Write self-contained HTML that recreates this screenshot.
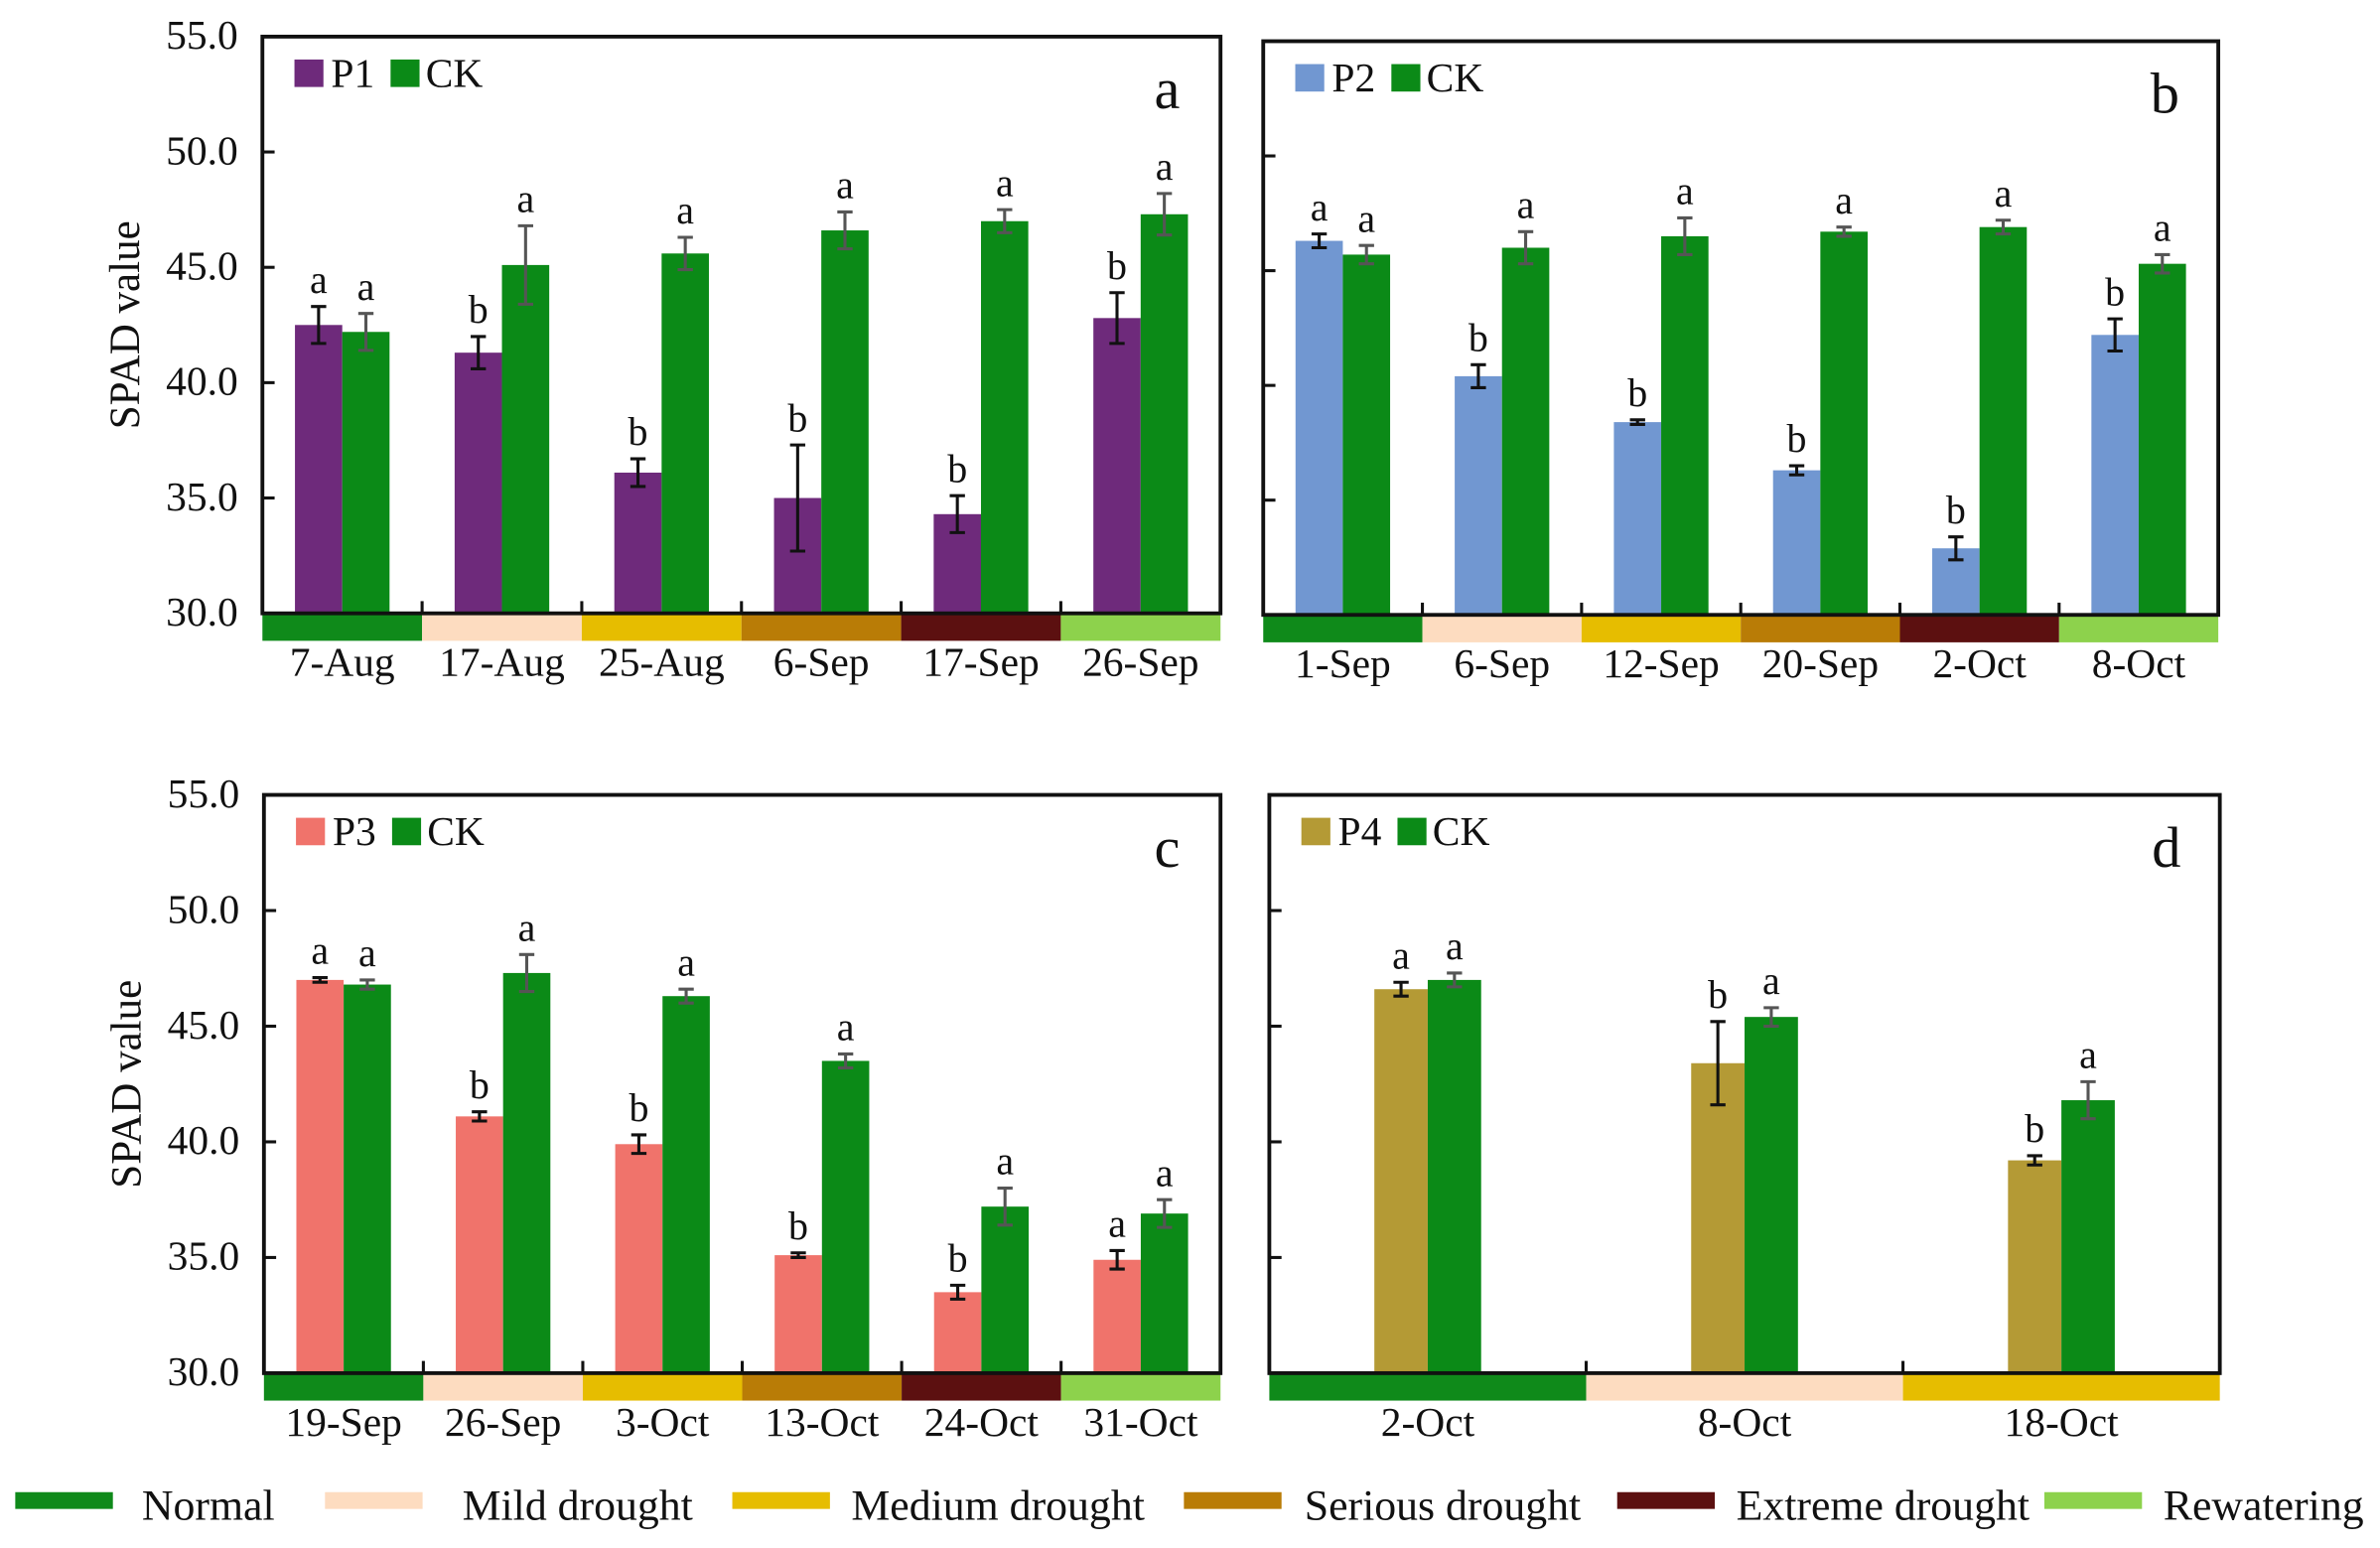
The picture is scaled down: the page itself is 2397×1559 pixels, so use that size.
<!DOCTYPE html>
<html><head><meta charset="utf-8"><style>
html,body{margin:0;padding:0;background:#fff}
svg{display:block}
text{font-family:"Liberation Serif",serif;fill:#111}
</style></head><body>
<svg id="chart" width="2397" height="1559" viewBox="0 0 1560 1014.6" xmlns="http://www.w3.org/2000/svg"></svg>
<script>
const aCats=["7-Aug","17-Aug","25-Aug","6-Sep","17-Sep","26-Sep"];
const aTreat=[42.5,41.3,36.1,35.0,34.3,42.8];
const aTreatErr=[0.8,0.7,0.6,2.3,0.8,1.1];
const aCK=[42.2,45.1,45.6,46.6,47.0,47.3];
const aCKErr=[0.8,1.7,0.7,0.8,0.5,0.9];
const aTreatLetters=["a","b","b","b","b","b"];
const aCKLetters=["a","a","a","a","a","a"];

const bCats=["1-Sep","6-Sep","12-Sep","20-Sep","2-Oct","8-Oct"];
const bTreat=[46.3,40.4,38.4,36.3,32.9,42.2];
const bTreatErr=[0.3,0.5,0.1,0.2,0.5,0.7];
const bCK=[45.7,46.0,46.5,46.7,46.9,45.3];
const bCKErr=[0.4,0.7,0.8,0.2,0.3,0.4];
const bTreatLetters=["a","b","b","b","b","b"];
const bCKLetters=["a","a","a","a","a","a"];

const cCats=["19-Sep","26-Sep","3-Oct","13-Oct","24-Oct","31-Oct"];
const cTreat=[47.0,41.1,39.9,35.1,33.5,34.9];
const cTreatErr=[0.1,0.2,0.4,0.1,0.3,0.4];
const cCK=[46.8,47.3,46.3,43.5,37.2,36.9];
const cCKErr=[0.2,0.8,0.3,0.3,0.8,0.6];
const cTreatLetters=["a","b","b","b","b","a"];
const cCKLetters=["a","a","a","a","a","a"];

const dCats=["2-Oct","8-Oct","18-Oct"];
const dTreat=[46.6,43.4,39.2];
const dTreatErr=[0.3,1.8,0.2];
const dCK=[47.0,45.4,41.8];
const dCKErr=[0.3,0.4,0.8];
const dTreatLetters=["a","b","b"];
const dCKLetters=["a","a","a"];

const yTicks=[30,35,40,45,50,55];
const yTickLabels=["30.0","35.0","40.0","45.0","50.0","55.0"];
const stageNames=["Normal","Mild drought","Medium drought","Serious drought","Extreme drought","Rewatering"];
const stageColors=["#0f8a1a","#fddcc0","#e6bd00","#b97c06","#5c1010","#8dd24c"];

const NS="http://www.w3.org/2000/svg";
const svg=document.getElementById("chart");
function mk(tag,attrs,parent,txt){const e=document.createElementNS(NS,tag);for(const k in attrs)e.setAttribute(k,attrs[k]);if(txt!==undefined)e.textContent=txt;(parent||svg).appendChild(e);return e;}

function panel(p){
  const g=mk("g",{});
  
  
  const y=v=>p.y1-(v-30)/25*(p.y1-p.y0);
  const n=p.cats.length, gw=(p.x1-p.x0)/n;
  for(let i=0;i<n;i++){
    const r=mk("rect",{x:p.x0+i*gw,y:p.y1+1,width:gw,height:17,fill:stageColors[i]},g);
    
    
    const t=mk("text",{x:p.x0+(i+0.5)*gw,y:p.y1+41,"font-size":27,"text-anchor":"middle"},g,p.cats[i]);
    
    
  }
  for(let i=0;i<n;i++){
    const gc=p.x0+(i+0.5)*gw;
    [[p.treat,p.terr,p.tl,p.color,gc-p.w,"#111"],[p.ck,p.cerr,p.cl,"#0b8a17",gc,"#555"]].forEach((s,k)=>{
      const v=s[0][i],e=s[1][i],bx=s[4];
      const b=mk("rect",{x:bx,y:y(v),width:p.w,height:y(30)-y(v),fill:s[3]},g);
      
      
      const cx=bx+p.w/2;
      const eb=mk("path",{d:`M${cx},${y(v+e)}V${y(v-e)}M${cx-5},${y(v+e)}h10M${cx-5},${y(v-e)}h10`,stroke:s[5],"stroke-width":2,fill:"none"},g);
      
      
      const lt=mk("text",{x:cx,y:y(v+e)-9,"font-size":26,"text-anchor":"middle"},g,s[2][i]);
      
      
    });
    if(i>0) mk("line",{x1:p.x0+i*gw,x2:p.x0+i*gw,y1:p.y1,y2:p.y1-8,stroke:"#111","stroke-width":2},g);
  }
  yTicks.forEach((t,i)=>{
    if(i>0&&i<yTicks.length-1) mk("line",{x1:p.x0,x2:p.x0+8,y1:y(t),y2:y(t),stroke:"#111","stroke-width":2},g);
    if(p.labels){const tl=mk("text",{x:p.x0-16,y:y(t)+8,"font-size":27,"text-anchor":"end"},g,yTickLabels[i]);
      
      }
  });
  const box=mk("rect",{x:p.x0,y:p.y0,width:p.x1-p.x0,height:p.y1-p.y0,fill:"none",stroke:"#111","stroke-width":2.5},g);
  
  
  if(p.labels){const yt=mk("text",{x:0,y:0,"font-size":28,"text-anchor":"middle",transform:`translate(${p.x0-81},${(p.y0+p.y1)/2}) rotate(-90)`},g,"SPAD value");
    
    }
  const lg=mk("g",{},g);
  
  
  mk("rect",{x:p.x0+21,y:p.y0+15,width:19,height:18,fill:p.color},lg);
  mk("text",{x:p.x0+45,y:p.y0+33,"font-size":27},lg,p.name);
  mk("rect",{x:p.x0+84,y:p.y0+15,width:19,height:18,fill:"#0b8a17"},lg);
  mk("text",{x:p.x0+107,y:p.y0+33,"font-size":27},lg,"CK");
  const pl=mk("text",{x:p.x1-35,y:p.y0+47,"font-size":38,"text-anchor":"middle"},g,p.id);
  
  
}
panel({id:"a",x0:172,x1:800,y0:24,y1:402,w:31,labels:true,cats:aCats,treat:aTreat,terr:aTreatErr,ck:aCK,cerr:aCKErr,tl:aTreatLetters,cl:aCKLetters,color:"#6e2a7b",name:"P1"});
panel({id:"b",x0:828,x1:1454,y0:27,y1:403,w:31,labels:false,cats:bCats,treat:bTreat,terr:bTreatErr,ck:bCK,cerr:bCKErr,tl:bTreatLetters,cl:bCKLetters,color:"#7197d1",name:"P2"});
panel({id:"c",x0:173,x1:800,y0:521,y1:900,w:31,labels:true,cats:cCats,treat:cTreat,terr:cTreatErr,ck:cCK,cerr:cCKErr,tl:cTreatLetters,cl:cCKLetters,color:"#f0736b",name:"P3"});
panel({id:"d",x0:832,x1:1455,y0:521,y1:900,w:35,labels:false,cats:dCats,treat:dTreat,terr:dTreatErr,ck:dCK,cerr:dCKErr,tl:dTreatLetters,cl:dCKLetters,color:"#b49a35",name:"P4"});

const legX=[10,213,480,776,1060,1340], legTX=[93,303,558,855,1138,1418];
stageNames.forEach((s,i)=>{
  const gg=mk("g",{});
  
  
  mk("rect",{x:legX[i],y:978,width:64,height:11,fill:stageColors[i]},gg);
  mk("text",{x:legTX[i],y:996,"font-size":28.5},gg,s);
});
</script>
</body></html>
